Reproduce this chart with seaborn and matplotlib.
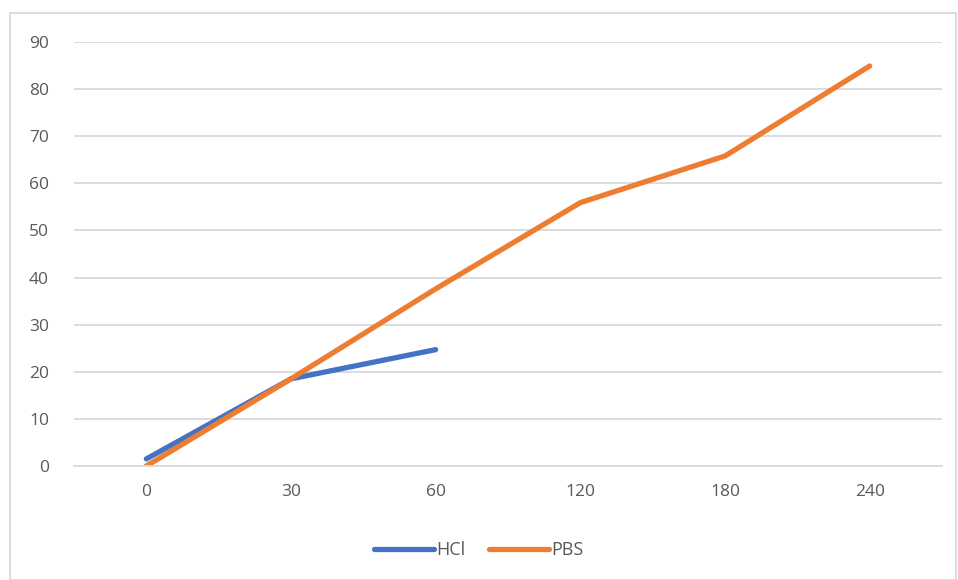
import pandas as pd
import matplotlib.pyplot as plt
import seaborn as sns
from matplotlib.patches import Rectangle

# 数据
times = ['0', '30', '60', '120', '180', '240']
hcl = [1.5, 18.5, 24.7]
pbs = [0, 18.5, 37.6, 55.9, 65.8, 84.9]

data = pd.concat([
    pd.DataFrame({'time': times[:len(hcl)], 'value': hcl, 'series': 'HCl'}),
    pd.DataFrame({'time': times, 'value': pbs, 'series': 'PBS'}),
])

sns.set_style('white')
plt.rcParams['font.family'] = ['Open Sans', 'DejaVu Sans']

fig = plt.figure(figsize=(9.58, 5.8), dpi=100)
ax = fig.add_axes([74 / 958, 1 - 466 / 580, (942 - 74) / 958, (466 - 42) / 580])

sns.lineplot(
    data=data, x='time', y='value', hue='series', sort=False,
    palette={'HCl': '#4472C4', 'PBS': '#ED7D31'},
    linewidth=3.8, solid_capstyle='round', ax=ax
)

ax.set_xlim(-0.5, 5.5)
ax.set_ylim(0, 90)
ax.set_yticks(range(0, 91, 10))
ax.grid(axis='y', color='#D9D9D9', linewidth=1.3)
ax.set_axisbelow(True)
for s in ['left', 'right', 'top']:
    ax.spines[s].set_visible(False)
ax.spines['bottom'].set_color('#D9D9D9')
ax.spines['bottom'].set_linewidth(1.3)
ax.tick_params(axis='both', length=0, labelsize=12.5, colors='#595959')
ax.tick_params(axis='x', pad=13)
ax.tick_params(axis='y', pad=18)
ax.set_xlabel('')
ax.set_ylabel('')

leg = ax.legend(loc='center', bbox_to_anchor=(0.5, 30 / 580), bbox_transform=fig.transFigure,
                ncol=2, frameon=False, fontsize=13, handlelength=3.3,
                handletextpad=0.15, columnspacing=1.3)
for t in leg.get_texts():
    t.set_color('#595959')
for h in leg.get_lines():
    h.set_linewidth(3.8)
    h.set_solid_capstyle('round')

# 外框
fig.patches.append(Rectangle((10 / 958, 0), 946 / 958, 567 / 580, transform=fig.transFigure,
                             fill=False, edgecolor='#D9D9D9', linewidth=1.3))

fig.savefig('out.png', dpi=100)
